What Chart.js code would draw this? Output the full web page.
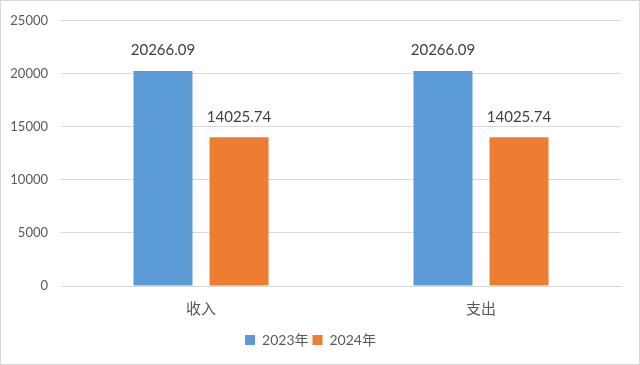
<!DOCTYPE html>
<html>
<head>
<meta charset="utf-8">
<script src="https://cdn.jsdelivr.net/npm/chart.js@4"></script>
<style>
  html, body { margin: 0; padding: 0; background: #fff; }
  #wrap { width: 640px; height: 365px; }
</style>
</head>
<body>
<div id="wrap"><canvas id="chart" width="640" height="365"></canvas></div>
<script>
// 数据
const categories = ['收入', '支出'];
const seriesNames = ['2023年', '2024年'];
const values2023 = [20266.09, 20266.09];
const values2024 = [14025.74, 14025.74];
const yTicks = [0, 5000, 10000, 15000, 20000, 25000];

const FONT = 'Lato, "Noto Sans CJK SC", sans-serif';

// 外边框
const borderPlugin = {
    id: 'outerBorder',
    afterDraw(chart) {
        const ctx = chart.ctx;
        ctx.save();
        ctx.strokeStyle = '#d9d9d9';
        ctx.lineWidth = 1;
        ctx.strokeRect(0.5, 0.5, chart.width - 1, chart.height - 1);
        ctx.restore();
    }
};

// 柱顶数值标签
const valueLabels = {
    id: 'valueLabels',
    afterDatasetsDraw(chart) {
        const ctx = chart.ctx;
        ctx.save();
        ctx.font = '15px ' + FONT;
        ctx.fillStyle = '#404040';
        ctx.textAlign = 'center';
        ctx.textBaseline = 'bottom';
        chart.data.datasets.forEach((ds, i) => {
            chart.getDatasetMeta(i).data.forEach((bar, j) => {
                ctx.fillText(ds.data[j].toFixed(2), bar.x, bar.y - 13);
            });
        });
        ctx.restore();
    }
};

new Chart(document.getElementById('chart'), {
    type: 'bar',
    data: {
        labels: categories,
        datasets: [
            { label: seriesNames[0], data: values2023, backgroundColor: '#5b9bd5' },
            { label: seriesNames[1], data: values2024, backgroundColor: '#ed7d31' }
        ]
    },
    options: {
        responsive: false,
        animation: false,
        layout: { padding: { top: 19, right: 19, left: 0, bottom: 8 } },
        categoryPercentage: 0.543,
        barPercentage: 0.776,
        plugins: {
            legend: {
                position: 'bottom',
                labels: {
                    boxWidth: 10,
                    boxHeight: 10,
                    padding: 4,
                    color: '#595959',
                    font: { family: FONT, size: 14 }
                }
            },
            tooltip: { enabled: false }
        },
        scales: {
            x: {
                grid: { display: false },
                border: { color: '#d9d9d9' },
                ticks: { color: '#595959', font: { family: FONT, size: 15 }, padding: 6 },
                afterFit(scale) { scale.height = 43; }
            },
            y: {
                min: 0,
                max: 25000,
                afterBuildTicks(scale) { scale.ticks = yTicks.map(v => ({ value: v })); },
                grid: { color: '#d9d9d9', drawTicks: false },
                border: { display: false },
                ticks: {
                    color: '#595959',
                    font: { family: FONT, size: 13 },
                    padding: 13,
                    callback: v => String(v)
                },
                afterFit(scale) { scale.width = 61; }
            }
        }
    },
    plugins: [borderPlugin, valueLabels]
});
</script>
</body>
</html>
